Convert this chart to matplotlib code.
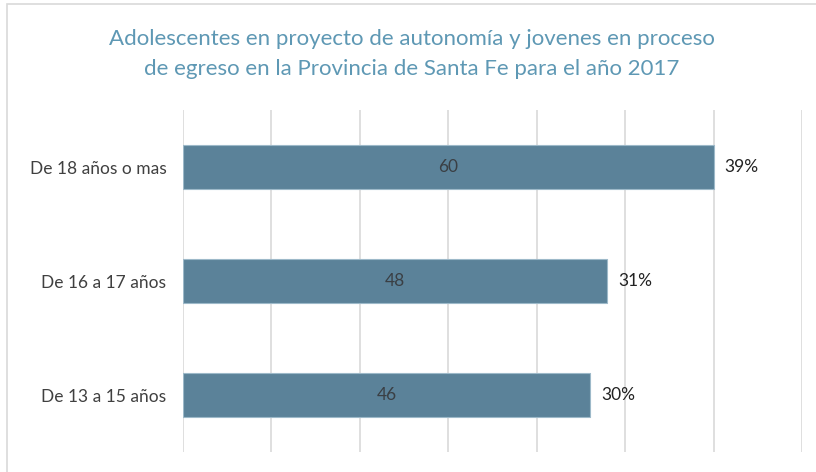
import matplotlib.pyplot as plt
from matplotlib.patches import Rectangle

# ==========================================
# DATA
# ==========================================
categories = ["De 13 a 15 años", "De 16 a 17 años", "De 18 años o mas"]
counts = [46, 48, 60]
shares = ["30%", "31%", "39%"]
title = ("Adolescentes en proyecto de autonomía y jovenes en proceso\n"
         "de egreso en la Provincia de Santa Fe para el año 2017")

# ==========================================
# STYLE
# ==========================================
plt.rcParams['font.family'] = ['Lato', 'DejaVu Sans']
BAR_COLOR = "#5B8299"
EDGE_COLOR = "#9DB9C9"
GRID_COLOR = "#D9D9D9"
TEXT_COLOR = "#404040"
TITLE_COLOR = "#5E98B4"

fig = plt.figure(figsize=(8.16, 4.72), dpi=100)
ax = fig.add_axes([183 / 816, 1 - 452 / 472, (802 - 183) / 816, (452 - 110) / 472])

ypos = range(len(categories))
bars = ax.barh(ypos, counts, height=0.39, color=BAR_COLOR,
               edgecolor=EDGE_COLOR, linewidth=0.8, zorder=2)

# value labels inside bars, share labels beside them
for b, c, s in zip(bars, counts, shares):
    y = b.get_y() + b.get_height() / 2
    ax.text(c / 2, y, str(c), ha="center", va="center",
            fontsize=12.5, color="#3A3F44", zorder=3)
    ax.annotate(s, (c, y), xytext=(8, 0), textcoords="offset points",
                ha="left", va="center", fontsize=12.5, color="#222222")

ax.set_xlim(0, 70)
ax.set_ylim(-0.5, 2.5)
ax.set_xticks(range(0, 71, 10))
ax.set_xticklabels([])
ax.set_yticks(list(ypos))
ax.set_yticklabels(categories, fontsize=12.5, color=TEXT_COLOR)
ax.tick_params(axis="both", length=0)
ax.tick_params(axis="y", pad=12)
ax.xaxis.grid(True, color=GRID_COLOR, linewidth=1.2, zorder=0)
ax.set_axisbelow(True)
for sp in ax.spines.values():
    sp.set_visible(False)

fig.text(0.505, 1 - 54 / 472, title, ha="center", va="center", fontsize=16,
         color=TITLE_COLOR, linespacing=1.6)

# light frame around the chart area
fig.patches.append(Rectangle((7 / 816, -0.1), 1.2, 1.1 - 4 / 472,
                             transform=fig.transFigure, fill=False,
                             edgecolor="#D9D9D9", linewidth=1.2))

fig.savefig("out.png", dpi=100)
